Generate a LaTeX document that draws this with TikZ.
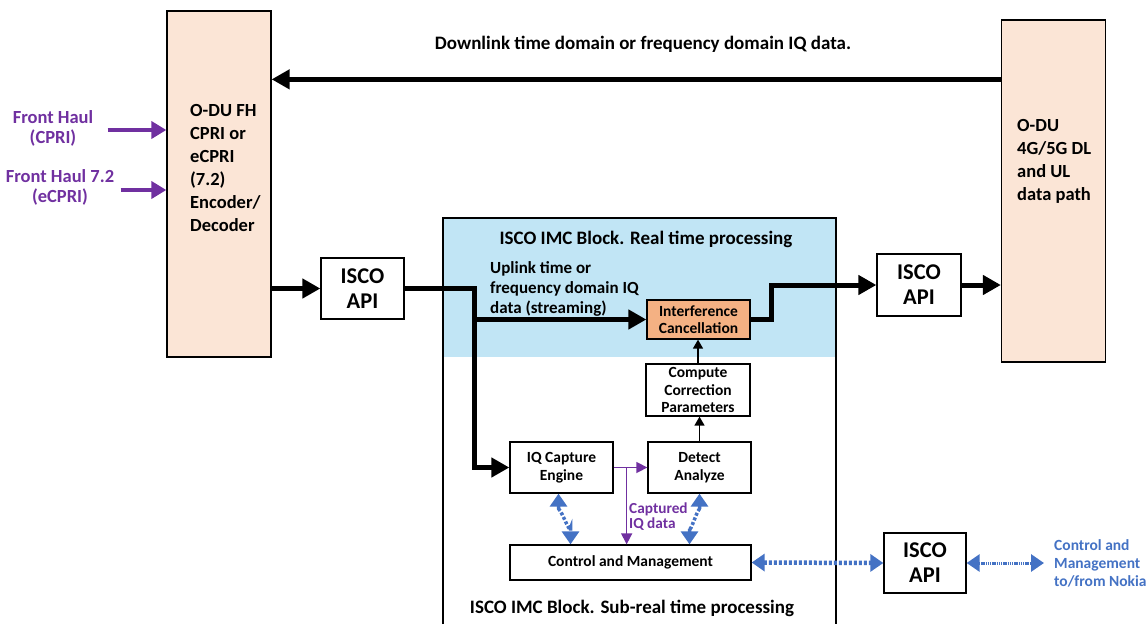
\documentclass[tikz,border=0pt]{standalone}
\usepackage{fontspec}
\setmainfont{Carlito}
\usetikzlibrary{arrows.meta}
\definecolor{peach}{RGB}{251,229,214}
\definecolor{skyb}{RGB}{193,229,245}
\definecolor{salm}{RGB}{244,177,131}
\definecolor{purp}{RGB}{112,48,160}
\definecolor{bluec}{RGB}{68,114,196}

\begin{document}
\begin{tikzpicture}[x=1pt,y=-1pt,
    box/.style={draw,line width=1.3pt,align=center,inner sep=1pt,
        font=\bfseries\fontsize{15.5}{17.5}\selectfont},
    apibox/.style={box,minimum width=83pt,minimum height=61pt,
        font=\bfseries\fontsize{22.5}{25}\selectfont},
    odubox/.style={draw,line width=1.3pt,fill=peach,minimum width=104pt},
    odutxt/.style={align=left,anchor=north west,inner sep=0pt,
        font=\bfseries\fontsize{18.5}{23}\selectfont},
    titletxt/.style={inner sep=0pt,font=\bfseries\fontsize{19}{22}\selectfont},
    bigarrow/.style={line width=5pt,-{Triangle[length=18pt,width=19pt]}},
    thinarrow/.style={line width=1.5pt,-{Triangle[length=9pt,width=10pt]}},
    fharrow/.style={purp,line width=4pt,-{Triangle[length=15pt,width=17pt]}},
    purparrow/.style={purp,line width=1.5pt,-{Triangle[length=11pt,width=11pt]}},
    ctrlarrow/.style={bluec,line width=4.5pt,dash pattern=on 3pt off 2pt,
        {Triangle[length=13pt,width=17pt]}-{Triangle[length=13pt,width=17pt]}},
    ]
    \useasboundingbox (0,0) rectangle (1146,624);
    %
    % the two O-DU blocks
    \node[odubox,minimum height=346pt] (odufh) at (219,184) {};
    \node[odutxt] (odufhtxt) at (190,104) {O-DU FH\\CPRI or\\eCPRI\\(7.2)\\Encoder/\\Decoder};
    \node[odubox,minimum height=342pt] (odudp) at (1053.5,191) {};
    \node[odutxt] (odudptxt) at (1017,119) {O-DU\\4G/5G DL\\and UL\\data path};
    %
    % front haul inputs
    \node[purp,align=center,font=\bfseries\fontsize{18.5}{20}\selectfont] (fhcpri) at (53,128) {Front Haul\\(CPRI)};
    \node[purp,align=center,font=\bfseries\fontsize{18.5}{20}\selectfont] (fhecpri) at (60,187) {Front Haul 7.2\\(eCPRI)};
    \draw[fharrow] ([xshift=11pt,yshift=-2pt]fhcpri.east) -- ([yshift=-2pt]fhcpri.east -| odufh.west);
    \draw[fharrow] ([xshift=3pt,yshift=-3pt]fhecpri.east) -- ([yshift=-3pt]fhecpri.east -| odufh.west);
    %
    % downlink
    \node[titletxt] (dltxt) at (643,44) {Downlink time domain or frequency domain IQ data.};
    \draw[bigarrow] ([yshift=-60pt]odudp.north west) -- ([yshift=-60pt]odudp.north west -| odufh.east);
    %
    % ISCO IMC block
    \fill[skyb] (443,218) rectangle (836,357);
    \draw[line width=1.3pt] (443,624) -- (443,218) -- (836,218) -- (836,624);
    \node[titletxt] (rttitle) at (646,239) {ISCO IMC Block. Real time processing};
    \node[titletxt] (srttitle) at (632,608) {ISCO IMC Block. Sub-real time processing};
    %
    \node[apibox] (apiul) at (362.5,288.5) {ISCO\\API};
    \node[apibox,minimum width=84pt,minimum height=62pt] (apidp) at (919,285) {ISCO\\API};
    \node[apibox,minimum width=82pt,minimum height=60pt] (apictl) at (925,563) {ISCO\\API};
    %
    \node[box,fill=salm,minimum width=103pt,minimum height=39pt] (ic) at (698.5,319.5) {Interference\\Cancellation};
    \node[box,fill=white,minimum width=104pt,minimum height=52pt] (ccp) at (698,390) {Compute\\Correction\\Parameters};
    \node[box,minimum width=103pt,minimum height=51pt] (det) at (699.5,467.5) {Detect\\Analyze};
    \node[box,minimum width=103pt,minimum height=51pt] (iqc) at (561.5,467.5) {IQ Capture\\Engine};
    \node[box,minimum width=241pt,minimum height=35pt] (cm) at (630.5,562.5) {Control and Management};
    %
    \node[align=left,anchor=north west,inner sep=0pt,font=\bfseries\fontsize{17}{20}\selectfont] (ultxt) at (490,261) {Uplink time or\\frequency domain IQ\\data (streaming)};
    \node[purp,align=left,anchor=north west,inner sep=0pt,font=\bfseries\fontsize{15.3}{15}\selectfont] (captxt) at (629,503) {Captured\\IQ data};
    \node[bluec,align=left,anchor=west,inner sep=0pt,font=\bfseries\fontsize{15.5}{18}\selectfont] (nokia) at (1054,563) {Control and\\Management\\to/from Nokia};
    %
    % uplink data path
    \draw[bigarrow] (odufh.east |- apiul) -- (apiul.west);
    \draw[bigarrow] (apiul.east) -| ([xshift=-35pt]iqc.west) -- (iqc.west);
    \draw[bigarrow] ([xshift=-35pt]iqc.west |- ic.west) -- (ic.west);
    \draw[bigarrow] (ic.east) -- ++(21pt,0) |- (apidp.west);
    \draw[bigarrow] (apidp.east) -- (apidp.east -| odudp.west);
    %
    % correction loop
    \draw[thinarrow] (ccp.north) -- (ccp.north |- ic.south);
    \draw[thinarrow] (det.north) -- (det.north |- ccp.south);
    \draw[purparrow] (iqc.east) -- (det.west);
    \draw[purparrow] ([xshift=13pt]iqc.east) -- ([xshift=13pt]iqc.east |- cm.north);
    %
    % control and management
    \draw[ctrlarrow,line width=3.5pt] ([xshift=-3pt]iqc.south) -- ++(0,17) to[out=90,in=-90] ([xshift=9pt]iqc.south |- 0,528) -- ([xshift=9pt]iqc.south |- cm.north);
    \draw[ctrlarrow,line width=3.5pt] (det.south) -- ++(0,17) to[out=90,in=-90] ([xshift=-10pt]det.south |- 0,528) -- ([xshift=-10pt]det.south |- cm.north);
    \draw[ctrlarrow] (cm.east) -- (apictl.west);
    \draw[ctrlarrow,line width=3pt,dash pattern=on 1.5pt off 0.7pt] (apictl.east) -- ([xshift=-10pt]nokia.west);
    %
\end{tikzpicture}
\end{document}
